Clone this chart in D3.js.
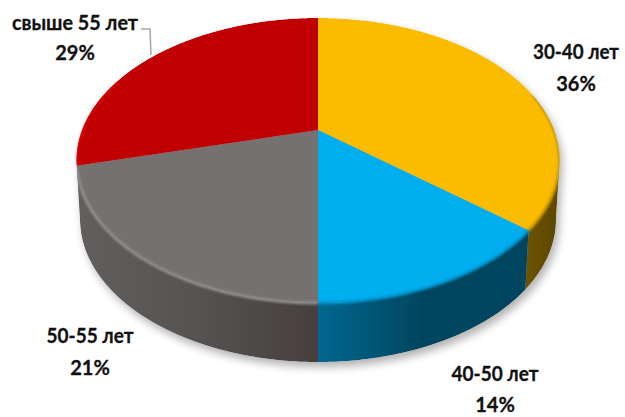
<!DOCTYPE html>
<html lang="ru">
<head>
<meta charset="UTF-8">
<title>pie 3d</title>
<script src="https://d3js.org/d3.v7.min.js"></script>
<style>
	html, body { margin: 0; padding: 0; background: #fff; }
	text { font-family: Lato, "Open Sans", sans-serif; font-weight: bold; font-size: 20px; fill: #111; stroke: #111; stroke-width: 0.3px; text-anchor: middle; }
</style>
</head>
<body>
<script>
var categories = ['30-40 лет', '40-50 лет', '50-55 лет', 'свыше 55 лет'];
var shares = [36, 14, 21, 29];

// layout only, not data
var topColors = ['#fbbc00', '#00aeef', '#767171', '#c00000'];
var rimColors = ['#c89600', '#0090c6', '#8f8d8c', '#ea0000'];
var sideStops = [
	[['0', '#6b5200'], ['1', '#5e4800']],
	[['0', '#00678f'], ['0.5', '#00455f'], ['1', '#00445e']],
	[['0', '#625e5d'], ['0.5', '#565251'], ['1', '#45403e']],
	[['0', '#6b0000'], ['1', '#6b0000']]
];
var labelPos = [[576, 59, 91], [495, 381, 412], [90, 343, 375], [75, 30, 60]];
var labelWidth = [86, 87, 87, 126];

var width = 625, height = 417;
var cx = 318, cy = 130, rx = 236, ry = 136, persp = 0.214, depth = 59;

var svg = d3.select('body').append('svg').attr('width', width).attr('height', height);
var defs = svg.append('defs');

// blur filters
defs.append('filter').attr('id', 'shadow').attr('x', '-10%').attr('y', '-10%').attr('width', '120%').attr('height', '120%')
	.append('feGaussianBlur').attr('stdDeviation', 4);
defs.append('filter').attr('id', 'rim').attr('x', '-10%').attr('y', '-10%').attr('width', '120%').attr('height', '120%')
	.append('feGaussianBlur').attr('stdDeviation', 1.2);

var x = d3.scaleLinear().domain([-1, 1]).range([cx - rx, cx + rx]);
var y = d3.scaleLinear().domain([-1, 1]).range([cy - ry, cy + ry]);

// circle point -> screen, with a bit of perspective toward the viewer
function project(a) {
	var u = Math.sin(a), v = -Math.cos(a), s = 1 / (1 - persp * v);
	return [x(u * s), y(v * s)];
}
function projectBottom(a) {
	var p = project(a);
	return [cx + (p[0] - cx) * 0.985, p[1] + depth];
}
function sample(a0, a1) {
	var n = Math.max(2, Math.ceil(Math.abs(a1 - a0) / 0.01));
	return d3.range(n + 1).map(function (i) { return a0 + (a1 - a0) * i / n; });
}
var line = d3.line();

var slices = d3.pie().sort(null).startAngle(0).endAngle(2 * Math.PI)(shares);

// front part of the rim, the only part where the wall shows
var visFrom = Math.PI - Math.acos(persp), visTo = Math.PI + Math.acos(persp);

function wallPath(a0, a1) {
	var top = sample(a0, a1).map(project);
	var bottom = sample(a1, a0).map(projectBottom);
	return line(top.concat(bottom)) + 'Z';
}

// whole silhouette, for shadow and clip
var outline = line(sample(visTo, visFrom + 2 * Math.PI).map(project).concat(sample(visFrom, visTo).map(projectBottom))) + 'Z';

svg.append('path').attr('d', outline).attr('fill', '#000').attr('opacity', 0.3)
	.attr('transform', 'translate(3,5)').attr('filter', 'url(#shadow)');

defs.append('clipPath').attr('id', 'pieclip').append('path').attr('d', outline);

slices.forEach(function (d, i) {
	var g = defs.append('linearGradient').attr('id', 'side' + i)
		.attr('gradientUnits', 'userSpaceOnUse');
	if (i === 1) {
		g.attr('x1', cx).attr('x2', project(d.startAngle)[0]);
	} else {
		g.attr('x1', x(-1)).attr('x2', cx);
	}
	if (i === 0) { g.attr('x1', project(d.endAngle)[0]).attr('x2', x(1)); }
	g.attr('y1', 0).attr('y2', 0);
	sideStops[i].forEach(function (s) {
		g.append('stop').attr('offset', s[0]).attr('stop-color', s[1]);
	});
});

var pie = svg.append('g').attr('clip-path', 'url(#pieclip)');

// walls
slices.forEach(function (d, i) {
	var a0 = Math.max(d.startAngle, visFrom), a1 = Math.min(d.endAngle, visTo);
	if (a1 <= a0) return;
	pie.append('path').attr('d', wallPath(a0, a1)).attr('fill', 'url(#side' + i + ')');
});

// top faces
slices.forEach(function (d, i) {
	var pts = [[cx, cy]].concat(sample(d.startAngle, d.endAngle).map(project));
	pie.append('path').attr('d', line(pts) + 'Z').attr('fill', topColors[i]);
});

// soft bevel round the edge of the top, only on the side facing us
slices.forEach(function (d, i) {
	var a0 = Math.max(d.startAngle, 1.3), a1 = Math.min(d.endAngle, 5.1);
	if (a1 <= a0) return;
	pie.append('path').attr('d', line(sample(a0, a1).map(project)))
		.attr('fill', 'none').attr('stroke', rimColors[i]).attr('stroke-width', 3)
		.attr('filter', 'url(#rim)');
});

// labels
var labels = svg.selectAll('g.label').data(slices).enter().append('g').attr('class', 'label');
labels.append('text')
	.attr('x', function (d, i) { return labelPos[i][0]; })
	.attr('y', function (d, i) { return labelPos[i][1]; })
	.attr('textLength', function (d, i) { return labelWidth[i]; })
	.attr('lengthAdjust', 'spacingAndGlyphs')
	.text(function (d, i) { return categories[i]; });
labels.append('text')
	.attr('x', function (d, i) { return labelPos[i][0]; })
	.attr('y', function (d, i) { return labelPos[i][2]; })
	.text(function (d) { return d.value + '%'; });

// leader for the red slice
svg.append('path').attr('d', line([[141, 29], [150, 29], [151, 55]]))
	.attr('fill', 'none').attr('stroke', '#a6a6a6').attr('stroke-width', 1.5);
</script>
</body>
</html>
